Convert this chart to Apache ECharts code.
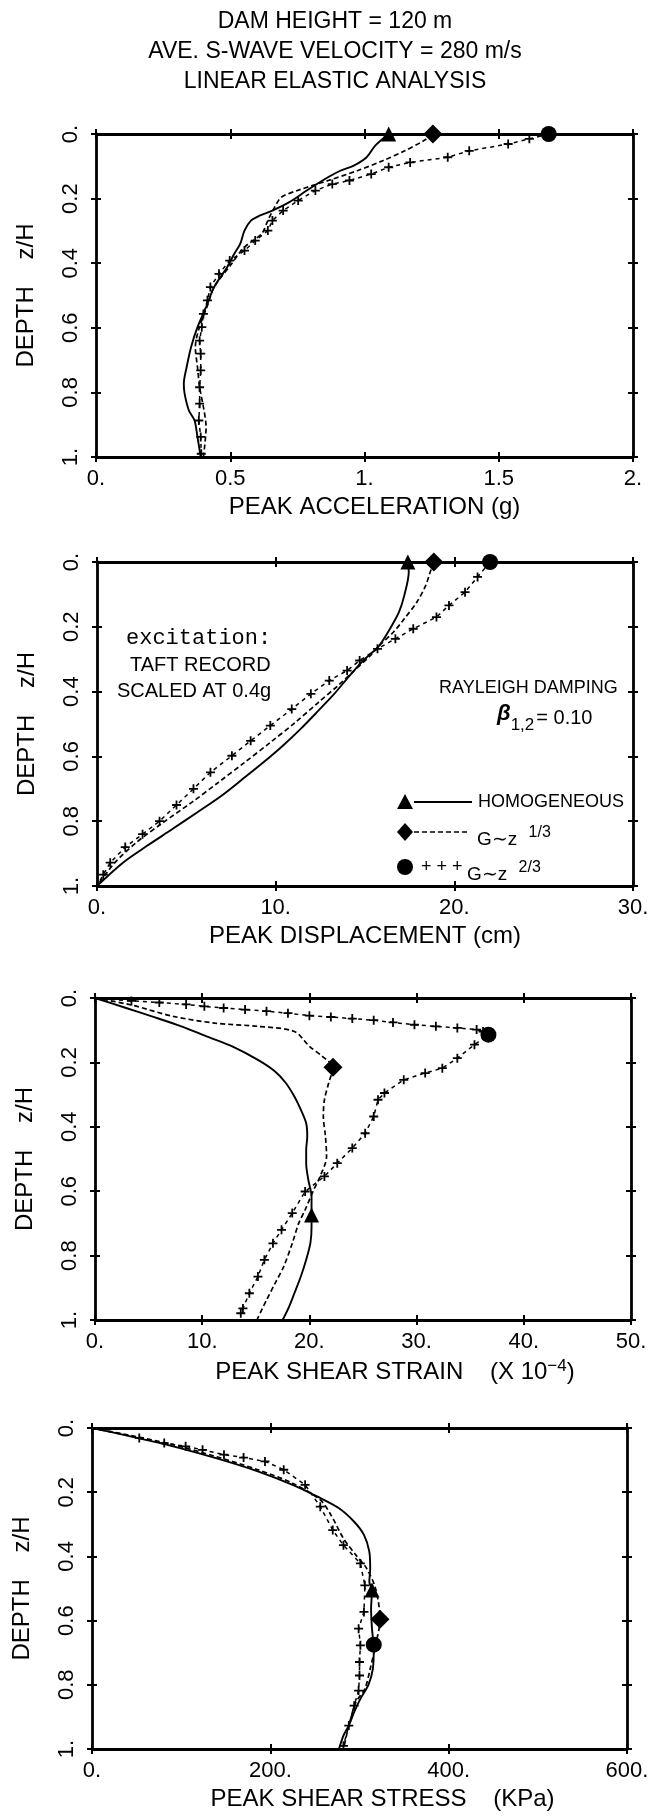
<!DOCTYPE html>
<html>
<head>
<meta charset="utf-8">
<script src="https://cdn.jsdelivr.net/npm/echarts@6/dist/echarts.min.js"></script>
<style>
  html, body { margin: 0; padding: 0; background: #fff; }
  #chart { width: 670px; height: 1816px; }
</style>
</head>
<body>
<div id="chart"></div>
<script>
// ---------- Peak acceleration (g) vs depth z/H ----------
const ACC_HOMO_Z = [0, 0.036, 0.072, 0.098, 0.113, 0.134, 0.175, 0.211, 0.237, 0.253, 0.268, 0.299, 0.34, 0.371, 0.41, 0.474, 0.536, 0.598, 0.66, 0.72, 0.773, 0.804, 0.856, 0.887, 0.938, 1.0];
const ACC_HOMO   = [1.09, 1.04, 1.008, 0.96, 0.912, 0.864, 0.785, 0.72, 0.657, 0.609, 0.577, 0.553, 0.537, 0.515, 0.49, 0.44, 0.41, 0.378, 0.354, 0.338, 0.327, 0.33, 0.346, 0.367, 0.378, 0.39];
const ACC_G13_Z  = [0, 0.021, 0.052, 0.082, 0.113, 0.144, 0.175, 0.196, 0.227, 0.268, 0.309, 0.35, 0.402, 0.474, 0.536, 0.598, 0.66, 0.722, 0.784, 0.845, 0.907, 1.0];
const ACC_G13    = [1.255, 1.22, 1.15, 1.07, 0.975, 0.865, 0.75, 0.69, 0.665, 0.64, 0.617, 0.553, 0.505, 0.44, 0.413, 0.385, 0.37, 0.378, 0.386, 0.4, 0.41, 0.4];
const ACC_G23_Z  = [0, 0.015, 0.031, 0.052, 0.072, 0.088, 0.103, 0.124, 0.144, 0.155, 0.175, 0.206, 0.237, 0.268, 0.299, 0.33, 0.361, 0.392, 0.433, 0.474, 0.515, 0.557, 0.598, 0.64, 0.68, 0.732, 0.784, 0.835, 0.887, 0.938, 0.99];
const ACC_G23    = [1.686, 1.614, 1.535, 1.39, 1.31, 1.17, 1.09, 1.025, 0.944, 0.88, 0.817, 0.753, 0.697, 0.657, 0.64, 0.593, 0.553, 0.498, 0.458, 0.426, 0.415, 0.4, 0.394, 0.386, 0.39, 0.39, 0.386, 0.386, 0.383, 0.39, 0.392];
const ACC_MARKS  = [[1.09, 0], [1.255, 0], [1.686, 0]];

// ---------- Peak displacement (cm) ----------
const DISP_HOMO_Z = [0, 0.031, 0.103, 0.155, 0.206, 0.258, 0.289, 0.31, 0.36, 0.412, 0.464, 0.515, 0.567, 0.619, 0.67, 0.722, 0.773, 0.825, 0.876, 0.928, 1.0];
const DISP_HOMO   = [17.4, 17.45, 17.2, 16.9, 16.4, 15.8, 15.2, 14.8, 14.0, 13.2, 12.3, 11.4, 10.4, 9.3, 8.15, 6.95, 5.6, 4.2, 2.8, 1.45, 0];
const DISP_G13_Z  = [0, 0.031, 0.072, 0.124, 0.175, 0.216, 0.258, 0.289, 0.33, 0.381, 0.433, 0.495, 0.557, 0.619, 0.68, 0.742, 0.804, 0.866, 0.928, 1.0];
const DISP_G13    = [18.85, 18.65, 18.4, 17.9, 17.2, 16.6, 15.8, 15.3, 14.5, 13.5, 12.4, 11.1, 9.7, 8.25, 6.8, 5.3, 3.7, 2.2, 1.0, 0];
const DISP_G23_Z  = [0, 0.046, 0.093, 0.134, 0.17, 0.206, 0.237, 0.268, 0.304, 0.335, 0.366, 0.407, 0.454, 0.505, 0.552, 0.598, 0.649, 0.70, 0.75, 0.8, 0.84, 0.88, 0.928, 0.965, 1.0];
const DISP_G23    = [22.0, 21.3, 20.6, 19.7, 19.0, 17.7, 16.7, 15.7, 14.7, 14.0, 13.0, 11.97, 10.9, 9.7, 8.6, 7.55, 6.35, 5.4, 4.45, 3.5, 2.55, 1.58, 0.74, 0.35, 0];
const DISP_MARKS  = [[17.4, 0], [18.85, 0], [22.0, 0]];

// ---------- Peak shear strain (x 10^-4) ----------
const STR_HOMO_Z = [0, 0.031, 0.057, 0.088, 0.119, 0.15, 0.192, 0.228, 0.264, 0.306, 0.347, 0.389, 0.43, 0.472, 0.513, 0.565, 0.617, 0.674, 0.71, 0.76, 0.813, 0.865, 0.917, 0.959, 1.0];
const STR_HOMO   = [0, 2.9, 5.3, 8.05, 10.4, 12.8, 15.2, 16.8, 17.8, 18.6, 19.2, 19.7, 19.8, 19.7, 19.7, 19.9, 20.2, 20.2, 20.2, 20.1, 19.7, 19.2, 18.6, 18.1, 17.5];
const STR_G13_Z  = [0, 0.021, 0.057, 0.078, 0.088, 0.104, 0.15, 0.181, 0.215, 0.264, 0.316, 0.368, 0.43, 0.492, 0.554, 0.596, 0.658, 0.7, 0.762, 0.834, 0.886, 0.938, 1.0];
const STR_G13    = [0, 3.3, 7.3, 11.2, 15.2, 18.6, 20.0, 21.2, 22.2, 21.8, 21.4, 21.3, 21.5, 21.6, 21.0, 20.4, 19.6, 19.0, 18.4, 17.6, 16.8, 16.0, 15.1];
const STR_G23_Z  = [0, 0.009, 0.014, 0.02, 0.026, 0.031, 0.036, 0.041, 0.047, 0.055, 0.059, 0.064, 0.069, 0.076, 0.083, 0.088, 0.093, 0.098, 0.104, 0.114, 0.145, 0.187, 0.218, 0.233, 0.254, 0.295, 0.316, 0.368, 0.42, 0.466, 0.513, 0.554, 0.601, 0.668, 0.72, 0.762, 0.813, 0.865, 0.917, 0.964, 0.979];
const STR_G23    = [0, 3.4, 6.0, 8.5, 10.2, 12.0, 14.0, 16.0, 18.0, 20.0, 22.0, 24.0, 26.0, 27.8, 29.8, 31.8, 33.8, 35.6, 36.2, 36.7, 35.4, 33.8, 32.4, 30.8, 28.8, 27.0, 26.4, 26.0, 25.2, 24.0, 22.6, 21.4, 19.6, 18.4, 17.4, 16.6, 15.8, 15.2, 14.4, 13.8, 13.6];
const STR_MARKS  = [[20.2, 0.674], [22.2, 0.215], [36.7, 0.114]];

// ---------- Peak shear stress (kPa) ----------
const SS_HOMO_Z = [0, 0.026, 0.057, 0.094, 0.135, 0.177, 0.214, 0.25, 0.292, 0.333, 0.385, 0.438, 0.479, 0.505, 0.563, 0.625, 0.688, 0.75, 0.80, 0.844, 0.885, 0.927, 0.958, 1.0];
const SS_HOMO   = [0, 43, 91, 139, 186, 225, 253, 277, 294, 305, 311, 312, 311, 314, 313, 314, 316, 315, 310, 301, 294, 288, 282, 277];
const SS_G13_Z  = [0, 0.023, 0.052, 0.089, 0.13, 0.172, 0.224, 0.271, 0.344, 0.396, 0.4375, 0.5, 0.596, 0.677, 0.75, 0.8125, 0.854, 0.917, 1.0];
const SS_G13    = [0, 43, 91, 139, 186, 225, 256, 268, 282, 296, 308, 318, 323, 318, 312, 306, 296, 289, 282];
const SS_G23_Z  = [0, 0.031, 0.047, 0.057, 0.068, 0.083, 0.092, 0.104, 0.13, 0.177, 0.245, 0.318, 0.365, 0.422, 0.49, 0.573, 0.625, 0.677, 0.729, 0.771, 0.818, 0.865, 0.927, 0.99];
const SS_G23    = [0, 53, 81, 105, 124, 148, 170, 194, 215, 239, 256, 270, 282, 301, 306, 305, 299, 301, 300, 300, 299, 294, 288, 282];
const SS_MARKS  = [[314, 0.505], [323, 0.596], [316, 0.675]];

// ---------- text ----------
const TITLE_LINES = ['DAM HEIGHT = 120 m', 'AVE. S-WAVE VELOCITY = 280 m/s', 'LINEAR ELASTIC ANALYSIS'];
const Y_NAME = 'DEPTH    z/H';

const SANS = "'Liberation Sans', Arial, sans-serif";
const MONO = "'Liberation Mono', 'DejaVu Sans Mono', monospace";
const BLACK = '#000';

const PANELS = [
  { left: 96, top: 134, width: 537, height: 323, xMax: 2,   xInterval: 0.5, name: 'PEAK ACCELERATION (g)', namePad: 20,
    series: [[ACC_HOMO, ACC_HOMO_Z], [ACC_G13, ACC_G13_Z], [ACC_G23, ACC_G23_Z]], marks: ACC_MARKS },
  { left: 97, top: 562, width: 536, height: 324, xMax: 30,  xInterval: 10,  name: 'PEAK DISPLACEMENT (cm)', namePad: 0,
    series: [[DISP_HOMO, DISP_HOMO_Z], [DISP_G13, DISP_G13_Z], [DISP_G23, DISP_G23_Z]], marks: DISP_MARKS },
  { left: 95, top: 998, width: 536, height: 322, xMax: 50,  xInterval: 10,  name: 'PEAK SHEAR STRAIN    (X 10{sup|\u22124})', namePad: 64,
    series: [[STR_HOMO, STR_HOMO_Z], [STR_G13, STR_G13_Z], [STR_G23, STR_G23_Z]], marks: STR_MARKS },
  { left: 92, top: 1428, width: 535, height: 321, xMax: 600, xInterval: 200, name: 'PEAK SHEAR STRESS    (KPa)', namePad: 46,
    series: [[SS_HOMO, SS_HOMO_Z], [SS_G13, SS_G13_Z], [SS_G23, SS_G23_Z]], marks: SS_MARKS }
];

const fmt = v => Number.isInteger(v) ? v + '.' : String(+v.toFixed(3));
const PLUS = 'path://M4,0h2v10h-2zM0,4h10v2h-10z';
const MARK_SYMBOLS = [['triangle', 15], ['diamond', 19], ['circle', 16]];

const grids = [], xAxes = [], yAxes = [], series = [];

PANELS.forEach((p, i) => {
  grids.push({ left: p.left, top: p.top, width: p.width, height: p.height });
  const line = { show: true, onZero: false, lineStyle: { color: BLACK, width: 2.8 } };
  const tickOut = { show: true, inside: false, length: 5, lineStyle: { color: BLACK, width: 2 } };
  const tickIn = { show: true, inside: true, length: 5, lineStyle: { color: BLACK, width: 2 } };
  const xb = { gridIndex: i, type: 'value', min: 0, max: p.xMax, interval: p.xInterval, splitLine: { show: false } };
  const yb = { gridIndex: i, type: 'value', min: 0, max: 1, interval: 0.2, inverse: true, splitLine: { show: false } };
  xAxes.push(
    Object.assign({}, xb, {
      position: 'bottom', axisLine: line, axisTick: tickOut,
      axisLabel: { formatter: fmt, margin: 11, fontSize: 22, color: BLACK, fontFamily: SANS },
      name: p.name, nameLocation: 'middle', nameGap: 38,
      nameTextStyle: { fontSize: 24, color: BLACK, fontFamily: SANS, padding: [0, 0, 0, p.namePad],
        rich: { sup: { fontSize: 17, color: BLACK, fontFamily: SANS, verticalAlign: 'bottom', padding: [0, 0, 11, 0] } } }
    }),
    Object.assign({}, xb, { position: 'bottom', axisLine: { show: false, onZero: false }, axisTick: tickIn, axisLabel: { show: false } }),
    Object.assign({}, xb, { position: 'top', axisLine: line, axisTick: tickOut, axisLabel: { show: false } }),
    Object.assign({}, xb, { position: 'top', axisLine: { show: false, onZero: false }, axisTick: tickIn, axisLabel: { show: false } })
  );
  yAxes.push(
    Object.assign({}, yb, {
      position: 'left', axisLine: line, axisTick: tickOut,
      axisLabel: { formatter: fmt, rotate: 90, margin: 14, fontSize: 22, color: BLACK, fontFamily: SANS },
      name: Y_NAME, nameLocation: 'middle', nameRotate: 90, nameGap: 58,
      nameTextStyle: { fontSize: 24, color: BLACK, fontFamily: SANS }
    }),
    Object.assign({}, yb, { position: 'left', axisLine: { show: false, onZero: false }, axisTick: tickIn, axisLabel: { show: false } }),
    Object.assign({}, yb, { position: 'right', axisLine: line, axisTick: tickOut, axisLabel: { show: false } }),
    Object.assign({}, yb, { position: 'right', axisLine: { show: false, onZero: false }, axisTick: tickIn, axisLabel: { show: false } })
  );
  const ax = { xAxisIndex: 4 * i, yAxisIndex: 4 * i };
  const pts = (vals, zs) => vals.map((v, k) => [v, zs[k]]);
  // homogeneous: solid
  series.push(Object.assign({ type: 'line', data: pts(p.series[0][0], p.series[0][1]), showSymbol: false, smooth: 0.3,
    lineStyle: { color: BLACK, width: 1.9 }, z: 3, silent: true }, ax));
  // G ~ z^(1/3): dashed
  series.push(Object.assign({ type: 'line', data: pts(p.series[1][0], p.series[1][1]), showSymbol: false, smooth: 0.3,
    lineStyle: { color: BLACK, width: 1.7, type: [5, 3] }, z: 3, silent: true }, ax));
  // G ~ z^(2/3): dashed with plus marks at the nodes
  series.push(Object.assign({ type: 'line', data: pts(p.series[2][0], p.series[2][1]), showSymbol: true, showAllSymbol: true,
    symbol: PLUS, symbolSize: 9, itemStyle: { color: BLACK }, smooth: false,
    lineStyle: { color: BLACK, width: 1.5, type: [4, 4] }, z: 3, silent: true }, ax));
  // identifying marks
  p.marks.forEach((m, k) => {
    series.push(Object.assign({ type: 'scatter', data: [m], symbol: MARK_SYMBOLS[k][0], symbolSize: MARK_SYMBOLS[k][1],
      itemStyle: { color: BLACK, opacity: 1 }, z: 5, silent: true }, ax));
  });
});

// annotations and key in the displacement panel
const graphics = [
  { type: 'text', left: 126, top: 627, style: { text: 'excitation:', font: '22px ' + MONO, fill: BLACK } },
  { type: 'text', left: 130, top: 655, style: { text: 'TAFT RECORD', font: '20px ' + SANS, fill: BLACK } },
  { type: 'text', left: 117, top: 681, style: { text: 'SCALED AT 0.4g', font: '20px ' + SANS, fill: BLACK } },
  { type: 'text', left: 439, top: 679, style: { text: 'RAYLEIGH DAMPING', font: '18px ' + SANS, fill: BLACK } },
  { type: 'text', left: 497, top: 703, style: {
      text: '{b|\u03b2}{s|1,2}{n|= 0.10}',
      rich: {
        b: { font: 'italic bold 22px ' + SANS, fill: BLACK, verticalAlign: 'top' },
        s: { font: '17px ' + SANS, fill: BLACK, padding: [14, 0, 0, 0] },
        n: { font: '20px ' + SANS, fill: BLACK, padding: [0, 0, 0, 2] }
      } } },
  // key rows
  { type: 'polygon', shape: { points: [[405, 794], [397, 809], [413, 809]] }, style: { fill: BLACK } },
  { type: 'line', shape: { x1: 414, y1: 802, x2: 472, y2: 802 }, style: { stroke: BLACK, lineWidth: 1.8 } },
  { type: 'text', left: 478, top: 793, style: { text: 'HOMOGENEOUS', font: '18px ' + SANS, fill: BLACK } },
  { type: 'polygon', shape: { points: [[405, 823], [413, 832], [405, 841], [397, 832]] }, style: { fill: BLACK } },
  { type: 'line', shape: { x1: 414, y1: 832, x2: 470, y2: 832 }, style: { stroke: BLACK, lineWidth: 1.6, lineDash: [5, 3] } },
  { type: 'text', left: 477, top: 825, style: {
      text: 'G\u223cz {s|1/3}',
      font: '19px ' + SANS, fill: BLACK,
      rich: { s: { font: '16px ' + SANS, fill: BLACK, padding: [0, 0, 14, 6] } } } },
  { type: 'circle', shape: { cx: 405, cy: 867, r: 8 }, style: { fill: BLACK } },
  { type: 'text', left: 421, top: 858, style: { text: '+ + +', font: '18px ' + SANS, fill: BLACK } },
  { type: 'text', left: 467, top: 860, style: {
      text: 'G\u223cz {s|2/3}',
      font: '19px ' + SANS, fill: BLACK,
      rich: { s: { font: '16px ' + SANS, fill: BLACK, padding: [0, 0, 14, 6] } } } }
];

const chart = echarts.init(document.getElementById('chart'), null, { renderer: 'canvas' });
chart.setOption({
  backgroundColor: '#fff',
  animation: false,
  title: {
    text: TITLE_LINES.join('\n'),
    left: 'center', top: 2,
    textStyle: { fontSize: 23, lineHeight: 30, fontWeight: 'normal', color: BLACK, fontFamily: SANS }
  },
  grid: grids,
  xAxis: xAxes,
  yAxis: yAxes,
  series: series,
  graphic: graphics
});
</script>
</body>
</html>
